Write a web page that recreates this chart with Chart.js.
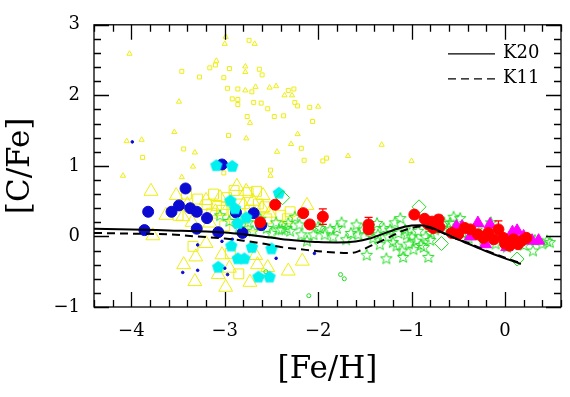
<!DOCTYPE html>
<html>
<head>
<meta charset="utf-8">
<script src="https://cdn.jsdelivr.net/npm/chart.js@4.4.1/dist/chart.umd.min.js"></script>
<style>
  html, body { margin: 0; padding: 0; background: #fff; }
</style>
</head>
<body>
<canvas id="cfe" width="570" height="397"></canvas>
<script>
// axis ticks
const xTicks = [-4, -3, -2, -1, 0];
const yTicks = [-1, 0, 1, 2, 3];

// model curves [Fe/H, [C/Fe]]
const k20 = [[-4.4,0.11],[-4.0,0.10],[-3.6,0.085],[-3.2,0.07],[-3.0,0.055],[-2.8,0.03],[-2.6,0.0],[-2.4,-0.035],
  [-2.2,-0.06],[-2.0,-0.08],[-1.8,-0.085],[-1.6,-0.07],[-1.45,-0.03],[-1.3,0.04],[-1.15,0.11],[-1.0,0.155],
  [-0.9,0.16],[-0.8,0.13],[-0.7,0.075],[-0.6,0.015],[-0.5,-0.045],[-0.4,-0.10],[-0.2,-0.21],[0.0,-0.31],[0.17,-0.39]];
const k11 = [[-4.4,0.05],[-4.0,0.04],[-3.6,0.03],[-3.3,0.0],[-3.0,-0.03],[-2.8,-0.06],[-2.6,-0.10],[-2.4,-0.15],
  [-2.2,-0.18],[-2.0,-0.21],[-1.8,-0.23],[-1.65,-0.235],[-1.55,-0.2],[-1.4,-0.11],[-1.25,-0.02],[-1.1,0.08],
  [-1.0,0.12],[-0.9,0.14],[-0.8,0.12],[-0.7,0.07],[-0.6,0.01],[-0.5,-0.04],[-0.4,-0.09],[-0.2,-0.2],[0.0,-0.30],[0.17,-0.38]];

// observed stars
const redStars = [[-2.62,0.20],[-2.46,0.45],[-2.16,0.33],[-2.09,0.17],[-1.95,0.28],[-1.46,0.17],[-1.46,0.10],
  [-0.97,0.31],[-0.86,0.25],[-0.78,0.21],[-0.71,0.24],[-0.70,0.13],[-0.77,0.12],[-0.57,0.05],[-0.50,0.03],
  [-0.43,0.12],[-0.37,0.10],[-0.29,0.03],[-0.23,-0.02],[-0.18,0.05],[-0.12,-0.04],[-0.07,0.10],[0.02,-0.08],
  [0.09,-0.04],[0.14,-0.11],[0.23,-0.02],[0.05,-0.13],[-0.02,-0.02],[0.0,-0.10],[0.10,-0.08],[0.18,-0.06],
  [-0.82,0.17],[-0.74,0.19]];
const redErr = [0,0.05,0,0,0.11,0.1,0,0,0,0,0.06,0,0,0,0,0,0,0,0,0,0,0.12,0,0,0,0,0,0,0,0,0,0,0];
const magentaTri = [[-0.52,0.14],[-0.46,0.14],[-0.29,0.19],[-0.16,0.17],[-0.37,0.00],[0.13,0.08],[0.08,0.06],
  [0.29,-0.06],[0.36,-0.06],[-0.21,-0.11],[0.02,-0.15],[0.20,0.00]];
const greenDiamonds = [[-2.38,0.55],[-0.92,0.42],[-0.68,-0.10],[0.13,-0.32]];
const cyanPent = [[-3.09,1.01],[-2.92,1.0],[-2.42,0.62],[-2.94,0.51],[-2.86,0.19],[-2.77,0.27],[-2.93,-0.13],
  [-2.86,-0.31],[-2.79,-0.31],[-2.71,-0.15],[-3.07,-0.43],[-2.64,-0.57],[-2.52,-0.57],[-2.50,-0.17],[-2.89,0.40]];
const blueCircles = [[-3.42,0.68],[-3.82,0.35],[-3.86,0.09],[-3.49,0.44],[-3.57,0.35],[-3.37,0.40],[-3.30,0.35],
  [-3.19,0.26],[-3.30,0.11],[-3.07,0.06],[-2.81,0.05],[-2.88,0.34],[-2.69,0.33],[-3.03,1.02],[-2.61,0.16]];
const greenStars = [[-3.05,0.30],[-2.95,0.22],[-2.85,0.12],[-2.75,0.20],[-2.70,0.08],[-2.62,0.25],[-2.55,0.12],
  [-2.50,0.05],[-2.45,0.20],[-2.42,0.10],[-2.39,0.10],[-2.34,0.12],[-2.32,0.19],[-2.30,0.08],[-2.25,0.28],
  [-2.20,0.17],[-2.18,0.03],[-2.12,-0.06],[-2.05,0.03],[-2.00,0.14],[-1.98,0.12],[-1.93,0.03],[-1.87,0.10],
  [-1.84,0.0],[-1.80,0.12],[-1.75,0.20],[-1.70,-0.04],[-1.65,0.05],[-1.59,0.17],[-1.57,0.03],[-1.52,0.10],
  [-1.48,-0.26],[-1.45,0.08],[-1.41,-0.02],[-1.37,0.19],[-1.36,0.03],[-1.34,-0.11],[-1.30,0.12],[-1.27,-0.31],
  [-1.25,0.0],[-1.23,0.10],[-1.20,-0.08],[-1.18,0.20],[-1.16,-0.13],[-1.14,0.05],[-1.12,0.26],[-1.10,-0.20],
  [-1.09,-0.29],[-1.07,0.10],[-1.05,0.03],[-1.03,-0.10],[-1.00,0.0],[-0.98,-0.18],[-0.95,-0.06],[-0.93,0.08],
  [-0.90,-0.12],[-0.87,-0.15],[-0.85,0.0],[-0.82,-0.29],[-0.80,-0.05],[-0.79,0.05],[-0.75,0.10],[-0.65,0.20],
  [-0.60,0.12],[-0.59,0.19],[-0.55,0.28],[-0.48,0.26],[-0.45,0.05],[-0.39,-0.02],[-0.30,0.10],[-0.23,-0.04],
  [-0.15,0.20],[-0.10,-0.10],[0.02,-0.15],[0.10,0.05],[0.20,-0.12],[0.30,-0.20],[0.32,-0.05],[0.40,-0.10],
  [0.45,-0.06],[0.48,-0.08]];
const greenDots = [[-1.76,-0.54],[-1.72,-0.60],[-2.10,-0.84],[-2.56,-0.50],[-2.60,-0.57]];
const blueDots = [[-3.99,1.34],[-3.29,-0.12],[-3.29,-0.48],[-3.45,-0.51],[-3.03,-0.07],[-3.0,-0.45],[-2.97,-0.54],
  [-2.45,-0.31],[-2.92,-0.04],[-2.04,-0.24]];
const yellowBigTri = [[-3.79,0.64],[-3.52,0.58],[-2.87,0.71],[-2.77,0.64],[-3.05,0.55],[-3.20,0.51],[-2.95,0.44],
  [-2.59,0.58],[-2.52,0.33],[-3.16,0.19],[-3.77,0.01],[-3.20,-0.10],[-3.31,-0.29],[-3.44,-0.40],[-3.32,-0.64],
  [-3.03,-0.26],[-2.99,-0.72],[-2.95,-0.45],[-3.07,-0.54],[-2.73,-0.65],[-2.54,-0.44],[-2.65,-0.40],[-2.67,-0.27],
  [-2.32,-0.49],[-2.12,0.44],[-2.17,-0.35],[-3.63,0.30],[-3.45,0.28],[-3.35,0.20],[-3.10,0.35],[-2.90,0.30],
  [-2.80,0.45],[-2.70,0.50],[-2.60,0.40],[-3.40,0.45]];
const yellowBigSq = [[-3.29,0.53],[-3.09,0.44],[-2.98,0.55],[-2.84,0.46],[-2.75,0.62],[-2.66,0.64],[-2.64,0.46],
  [-3.03,0.37],[-3.14,0.33],[-3.19,0.45],[-3.41,0.60],[-2.91,0.37],[-2.73,0.37],[-2.57,0.42],[-3.34,-0.14],
  [-2.85,-0.53],[-2.94,-0.24],[-2.30,0.35],[-2.33,0.25],[-3.50,0.30],[-3.00,0.15],[-2.80,0.25],[-2.70,0.15],
  [-2.55,0.25],[-3.12,0.60],[-2.90,0.65],[-2.40,0.30]];
const yellowSmallSq = [[-2.74,2.78],[-3.10,2.43],[-3.16,2.39],[-3.46,2.34],[-2.95,2.38],[-2.63,2.37],[-2.60,2.29],
  [-3.27,2.26],[-3.01,2.25],[-2.97,2.10],[-2.86,2.09],[-2.71,2.05],[-2.32,2.07],[-2.26,2.09],[-2.92,1.95],
  [-2.86,1.94],[-2.86,1.87],[-2.69,1.90],[-2.61,1.89],[-2.54,1.81],[-2.25,1.90],[-2.22,1.85],[-2.09,1.83],
  [-2.47,1.70],[-2.37,1.71],[-2.76,1.70],[-2.06,1.63],[-2.96,1.43],[-2.18,1.25],[-3.44,1.24],[-3.88,1.12],
  [-2.15,1.08],[-1.95,1.07],[-1.91,1.11],[-3.01,0.90],[-2.51,0.94]];
const yellowSmallTri = [[-4.02,2.59],[-2.99,2.83],[-3.00,2.73],[-2.68,2.73],[-3.09,2.49],[-2.78,2.41],[-2.78,2.33],
  [-2.78,2.07],[-2.67,2.12],[-2.52,2.11],[-2.45,2.13],[-2.36,2.0],[-2.28,2.0],[-3.49,1.91],[-2.00,1.84],
  [-2.73,1.61],[-3.54,1.48],[-2.22,1.45],[-2.77,1.39],[-4.05,1.35],[-3.89,1.37],[-2.29,1.31],[-3.32,1.19],
  [-2.44,1.20],[-1.68,1.14],[-1.32,1.30],[-1.00,1.07],[-4.09,0.86],[-3.46,0.84],[-3.34,0.99],[-2.51,0.86]];

const pts = arr => arr.map(p => ({ x: p[0], y: p[1] }));

function marker(size, draw) {
  const c = document.createElement('canvas');
  c.width = size; c.height = size;
  draw(c.getContext('2d'), size / 2);
  return c;
}
function poly(g, c, n, rOut, rIn) {
  g.beginPath();
  const steps = rIn ? n * 2 : n;
  for (let i = 0; i < steps; i++) {
    const r = rIn && i % 2 ? rIn : rOut;
    const a = -Math.PI / 2 + i * Math.PI * 2 / steps;
    const px = c + r * Math.cos(a), py = c + r * Math.sin(a) + 0.5;
    i ? g.lineTo(px, py) : g.moveTo(px, py);
  }
  g.closePath();
}
const pentagon = marker(14, (g, c) => { poly(g, c, 5, 6.5); g.fillStyle = '#00f0f0'; g.fill(); });
const openStar = marker(14, (g, c) => { poly(g, c, 5, 6, 2.6); g.strokeStyle = '#22dd22'; g.lineWidth = 1; g.stroke(); });

const serif = 'DejaVu Serif';
const minus = v => String(v).replace('-', '\u2212');

const scatter = (label, data, opts) => Object.assign({
  type: 'scatter', label, data: pts(data), borderWidth: 1, pointHoverRadius: 0
}, opts);

const datasets = [
  { type: 'line', label: 'K20', data: pts(k20), borderColor: '#000', borderWidth: 2, pointRadius: 0,
    cubicInterpolationMode: 'monotone', fill: false },
  { type: 'line', label: 'K11', data: pts(k11), borderColor: '#000', borderWidth: 2, borderDash: [8, 5],
    pointRadius: 0, cubicInterpolationMode: 'monotone', fill: false },
  scatter('red', redStars, { pointStyle: 'circle', pointRadius: 5.5, backgroundColor: '#ff0000', borderColor: '#ff0000' }),
  scatter('magenta', magentaTri, { pointStyle: 'triangle', pointRadius: 7, backgroundColor: '#ff00ff', borderColor: '#ff00ff' }),
  scatter('diamonds', greenDiamonds, { pointStyle: 'rectRot', pointRadius: 7, backgroundColor: 'rgba(0,0,0,0)', borderColor: '#22dd22' }),
  scatter('cyan', cyanPent, { pointStyle: pentagon }),
  scatter('blue', blueCircles, { pointStyle: 'circle', pointRadius: 5.5, backgroundColor: '#0a0ad2', borderColor: '#0a0ad2' }),
  scatter('stars', greenStars, { pointStyle: openStar }),
  scatter('greenDots', greenDots, { pointStyle: 'circle', pointRadius: 2, backgroundColor: 'rgba(0,0,0,0)', borderColor: '#22dd22' }),
  scatter('blueDots', blueDots, { pointStyle: 'circle', pointRadius: 1.3, backgroundColor: '#0a0ad2', borderColor: '#0a0ad2' }),
  scatter('yBigTri', yellowBigTri, { pointStyle: 'triangle', pointRadius: 8, backgroundColor: 'rgba(0,0,0,0)', borderColor: '#eeee10' }),
  scatter('yBigSq', yellowBigSq, { pointStyle: 'rect', pointRadius: 7, backgroundColor: 'rgba(0,0,0,0)', borderColor: '#eeee10' }),
  scatter('ySmallSq', yellowSmallSq, { pointStyle: 'rect', pointRadius: 2.8, backgroundColor: 'rgba(0,0,0,0)', borderColor: '#eeee10' }),
  scatter('ySmallTri', yellowSmallTri, { pointStyle: 'triangle', pointRadius: 3, backgroundColor: 'rgba(0,0,0,0)', borderColor: '#eeee10' })
];

// frame with inward ticks, error bars, legend
const framePlugin = {
  id: 'frame',
  afterDatasetsDraw(chart) {
    const { ctx, chartArea: a, scales: { x, y } } = chart;
    ctx.save();

    ctx.strokeStyle = '#ff0000';
    ctx.lineWidth = 1.2;
    redStars.forEach((p, i) => {
      if (!redErr[i]) return;
      const px = x.getPixelForValue(p[0]);
      const top = y.getPixelForValue(p[1] + redErr[i]);
      const bot = y.getPixelForValue(p[1] - redErr[i]);
      ctx.beginPath();
      ctx.moveTo(px, top); ctx.lineTo(px, bot);
      ctx.moveTo(px - 4, top); ctx.lineTo(px + 4, top);
      ctx.moveTo(px - 4, bot); ctx.lineTo(px + 4, bot);
      ctx.stroke();
    });

    ctx.strokeStyle = '#000';
    ctx.lineWidth = 1.3;
    ctx.strokeRect(a.left, a.top, a.right - a.left, a.bottom - a.top);
    ctx.beginPath();
    for (let v = -4.4; v <= 0.61; v += 0.2) {
      const px = Math.round(x.getPixelForValue(v)) + 0.5;
      const len = xTicks.some(t => Math.abs(t - v) < 1e-6) ? 15 : 7;
      ctx.moveTo(px, a.bottom); ctx.lineTo(px, a.bottom - len);
      ctx.moveTo(px, a.top); ctx.lineTo(px, a.top + len);
    }
    for (let v = -1; v <= 3.01; v += 0.2) {
      const py = Math.round(y.getPixelForValue(v)) + 0.5;
      const len = yTicks.some(t => Math.abs(t - v) < 1e-6) ? 15 : 7;
      ctx.moveTo(a.left, py); ctx.lineTo(a.left + len, py);
      ctx.moveTo(a.right, py); ctx.lineTo(a.right - len, py);
    }
    ctx.stroke();

    ctx.font = '18px "' + serif + '"';
    ctx.fillStyle = '#000';
    ctx.textBaseline = 'middle';
    chart.data.datasets.filter(d => d.type === 'line').forEach((d, i) => {
      const ly = a.top + 29 + i * 25;
      ctx.beginPath();
      ctx.lineWidth = 1.3;
      ctx.setLineDash(d.borderDash || []);
      ctx.moveTo(a.right - 113, ly); ctx.lineTo(a.right - 66, ly);
      ctx.stroke();
      ctx.setLineDash([]);
      ctx.fillText(d.label, a.right - 58, ly);
    });
    ctx.restore();
  }
};

new Chart(document.getElementById('cfe'), {
  data: { datasets },
  options: {
    responsive: false,
    animation: false,
    events: [],
    layout: { padding: { top: 14, right: 9, left: 0, bottom: 0 } },
    plugins: { legend: { display: false }, tooltip: { enabled: false } },
    scales: {
      x: {
        type: 'linear', min: -4.4, max: 0.6,
        grid: { display: false, drawTicks: false }, border: { display: false },
        afterBuildTicks: s => { s.ticks = xTicks.map(v => ({ value: v })); },
        afterFit: s => { s.height = 90; },
        ticks: { padding: 14, color: '#000', font: { family: serif, size: 18 }, maxRotation: 0, autoSkip: false,
          callback: v => minus(v) },
        title: { display: true, text: '[Fe/H]', color: '#000', font: { family: serif, size: 31 }, padding: { bottom: 8 } }
      },
      y: {
        type: 'linear', min: -1, max: 3,
        grid: { display: false, drawTicks: false }, border: { display: false },
        afterBuildTicks: s => { s.ticks = yTicks.map(v => ({ value: v })); },
        afterFit: s => { s.width = 94; },
        ticks: { padding: 14, color: '#000', font: { family: serif, size: 18 }, autoSkip: false,
          callback: v => minus(v) },
        title: { display: true, text: '[C/Fe]', color: '#000', font: { family: serif, size: 31 }, padding: { top: 2 } }
      }
    }
  },
  plugins: [framePlugin]
});
</script>
</body>
</html>
